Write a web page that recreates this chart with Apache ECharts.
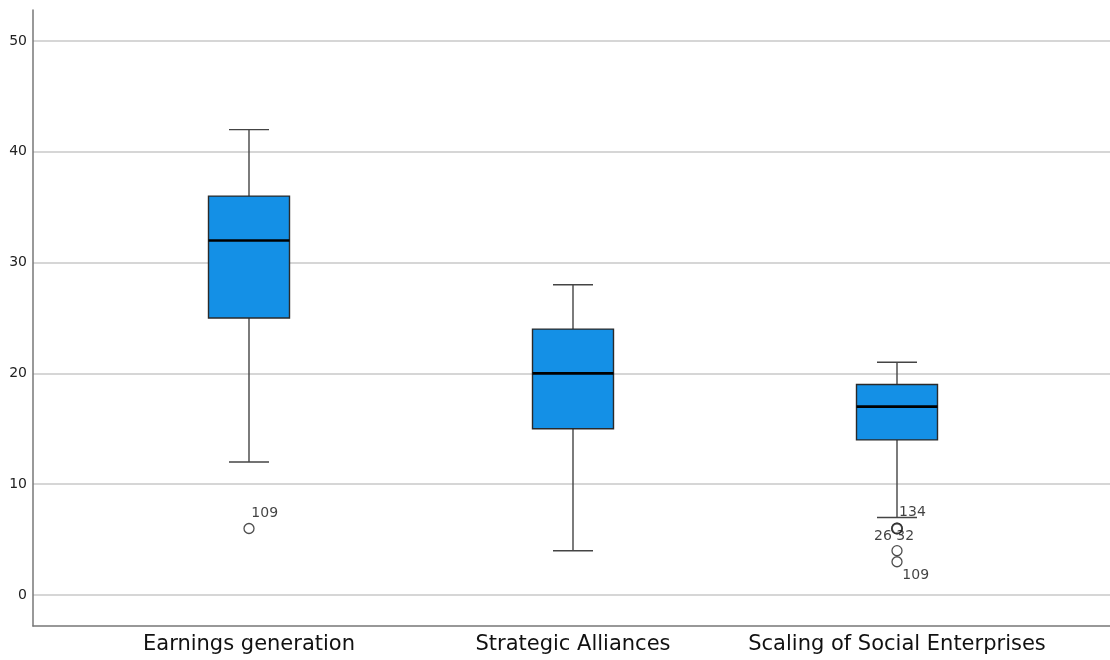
<!DOCTYPE html>
<html><head><meta charset="utf-8">
<script src="https://cdn.jsdelivr.net/npm/echarts@6/dist/echarts.min.js"></script>
<style>html,body{margin:0;padding:0;background:#fff}#c{width:1110px;height:660px}</style>
</head><body><div id="c"></div>
<script>
const categories = ['Earnings generation', 'Strategic Alliances', 'Scaling of Social Enterprises'];
const whiskerLow = [12, 4, 7];
const q1 = [25, 15, 14];
const median = [32, 20, 17];
const q3 = [36, 24, 19];
const whiskerHigh = [42, 28, 21];
const outlierCat = [0, 2, 2, 2, 2];
const outlierVal = [6, 6, 6, 4, 3];
const outlierLabel = ['109', '134', '26 32', '', '109'];
const yTicks = [0, 10, 20, 30, 40, 50];

const boxData = categories.map((c, i) => [i, whiskerLow[i], q1[i], median[i], q3[i], whiskerHigh[i]]);
const labelPos = {0: [8, -10], 1: [8, -10], 2: [-17, 14], 4: [11, 19]};
const outData = outlierCat.map((c, i) => ({
  value: [c, outlierVal[i]],
  symbolSize: 10,
  itemStyle: { borderWidth: (i === 1 || i === 2) ? 1.8 : 1.3 },
  label: { show: outlierLabel[i] !== '', formatter: outlierLabel[i], position: labelPos[i] || [0, 0] }
}));

const chart = echarts.init(document.getElementById('c'), null, {renderer: 'canvas'});
chart.setOption({
  animation: false,
  backgroundColor: '#fff',
  grid: [
    {left: 33, right: 0, top: 41, bottom: 65},
    {left: 87, right: 51, top: 41, bottom: 65},
    {left: 33, right: 0, top: 10, bottom: 34}
  ],
  xAxis: [
    {gridIndex: 0, type: 'value', show: false},
    {gridIndex: 1, type: 'category', data: categories,
      axisLine: {show: false}, axisTick: {show: false}, splitLine: {show: false},
      axisLabel: {interval: 0, margin: 39, fontSize: 21, fontFamily: 'DejaVu Sans', color: '#111'}},
    {gridIndex: 2, type: 'value', min: 0, max: 1,
      axisLine: {show: true, lineStyle: {color: '#777', width: 1.5}},
      axisTick: {show: false}, axisLabel: {show: false}, splitLine: {show: false}}
  ],
  yAxis: [
    {gridIndex: 0, type: 'value', min: yTicks[0], max: yTicks[yTicks.length - 1], interval: 10,
      axisLine: {show: false}, axisTick: {show: false},
      axisLabel: {fontSize: 14, fontFamily: 'DejaVu Sans', color: '#222', margin: 6},
      splitLine: {show: true, lineStyle: {color: '#c9c9c9', width: 1.5}}},
    {gridIndex: 1, type: 'value', min: yTicks[0], max: yTicks[yTicks.length - 1], show: false},
    {gridIndex: 2, type: 'value', min: 0, max: 1,
      axisLine: {show: true, lineStyle: {color: '#777', width: 1.5}},
      axisTick: {show: false}, axisLabel: {show: false}, splitLine: {show: false}}
  ],
  series: [
    {
      type: 'custom', xAxisIndex: 1, yAxisIndex: 1, data: boxData, z: 5,
      renderItem: function (params, api) {
        const x = api.value(0);
        const pLow = api.coord([x, api.value(1)]);
        const pQ1 = api.coord([x, api.value(2)]);
        const pMed = api.coord([x, api.value(3)]);
        const pQ3 = api.coord([x, api.value(4)]);
        const pHigh = api.coord([x, api.value(5)]);
        const bw = 81, cw = 40;
        const cx = pLow[0];
        const wStyle = {stroke: '#444', lineWidth: 1.4};
        return {
          type: 'group',
          children: [
            {type: 'line', shape: {x1: cx, y1: pLow[1], x2: cx, y2: pQ1[1]}, style: wStyle},
            {type: 'line', shape: {x1: cx, y1: pQ3[1], x2: cx, y2: pHigh[1]}, style: wStyle},
            {type: 'line', shape: {x1: cx - cw / 2, y1: pLow[1], x2: cx + cw / 2, y2: pLow[1]}, style: wStyle},
            {type: 'line', shape: {x1: cx - cw / 2, y1: pHigh[1], x2: cx + cw / 2, y2: pHigh[1]}, style: wStyle},
            {type: 'rect', shape: {x: cx - bw / 2, y: pQ3[1], width: bw, height: pQ1[1] - pQ3[1]},
              style: {fill: '#1490e6', stroke: '#2a2a2a', lineWidth: 1.4}},
            {type: 'line', shape: {x1: cx - bw / 2, y1: pMed[1], x2: cx + bw / 2, y2: pMed[1]},
              style: {stroke: '#000', lineWidth: 2.6}}
          ]
        };
      }
    },
    {
      type: 'scatter', xAxisIndex: 1, yAxisIndex: 1, data: outData, z: 6,
      symbol: 'circle',
      itemStyle: {color: '#fff', borderColor: '#222', borderWidth: 1.3},
      label: {color: '#111', fontSize: 14, fontFamily: 'DejaVu Sans', verticalAlign: 'middle', align: 'left'}
    }
  ]
});
</script></body></html>
